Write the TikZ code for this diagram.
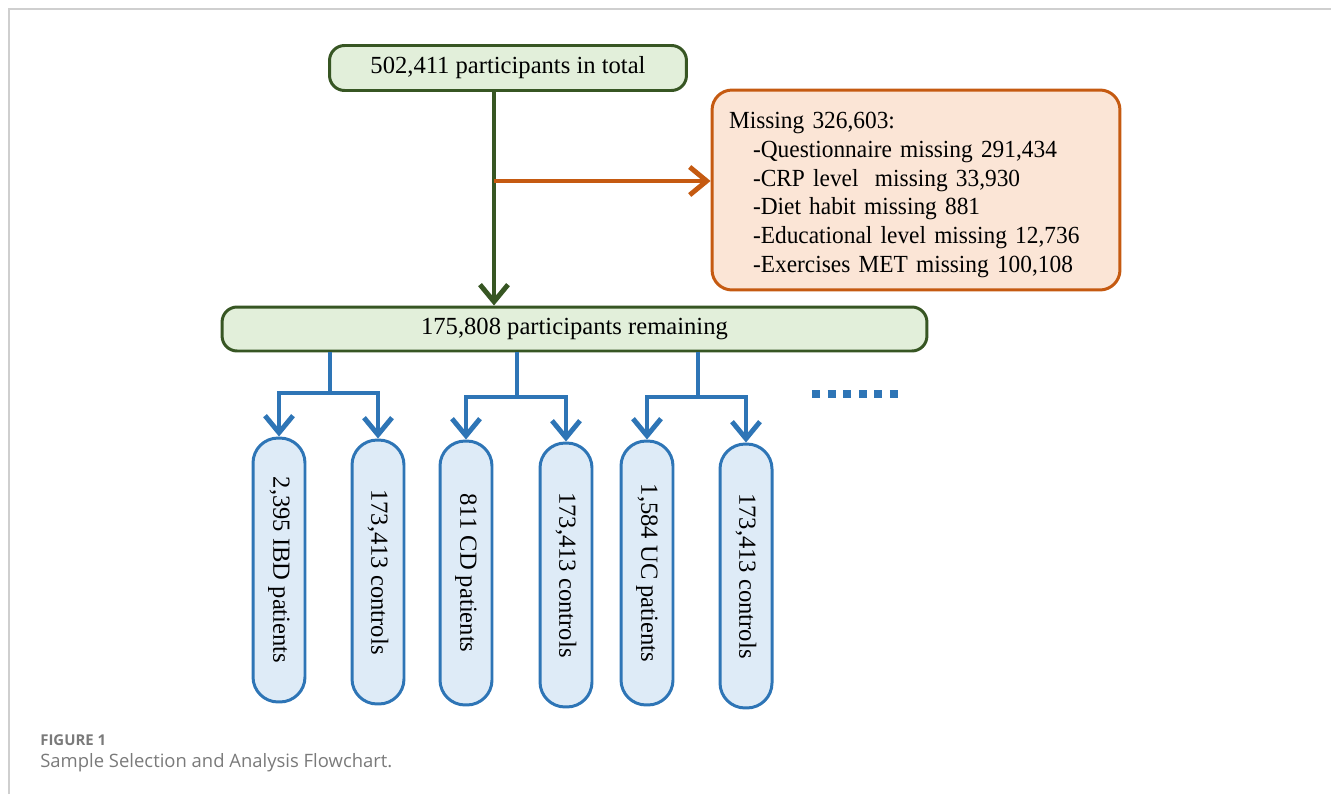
\documentclass[tikz,border=0pt]{standalone}
\usepackage{fontspec}
\setmainfont{Liberation Serif}
\newfontfamily\cajafont[FakeStretch=0.95]{Liberation Serif}
\newfontfamily\capfont{Open Sans}
\usetikzlibrary{arrows.meta}

\definecolor{verdeosc}{HTML}{375623}
\definecolor{verdeclaro}{HTML}{E2EFDA}
\definecolor{naranja}{HTML}{C55A11}
\definecolor{naranjaclaro}{HTML}{FBE5D6}
\definecolor{azul}{HTML}{2E75B6}
\definecolor{azulclaro}{HTML}{DEEBF7}
\definecolor{gris}{HTML}{7A7A7A}
\definecolor{marco}{HTML}{CFCFCF}

\tikzset{
  texto/.style={font=\fontsize{14}{16.5}\selectfont},
  cajaverde/.style={texto, draw=verdeosc, fill=verdeclaro, line width=1.7pt, rounded corners=0.3cm},
  cajanaranja/.style={font=\cajafont\fontsize{14}{16.4}\selectfont, draw=naranja, fill=naranjaclaro, line width=1.7pt, rounded corners=0.4cm},
  cajaazul/.style={texto, draw=azul, fill=azulclaro, line width=1.7pt, rounded corners=0.5cm,
    minimum width=1.04cm, minimum height=5.28cm, inner sep=0pt},
  punta/.style={-{Straight Barb[length=0.34cm,width=0.56cm]}},
  lineaverde/.style={draw=verdeosc, line width=2.8pt, punta},
  lineanaranja/.style={draw=naranja, line width=2.8pt, punta},
  lineaazul/.style={draw=azul, line width=2.8pt},
  flechaazul/.style={lineaazul, punta},
}

\begin{document}
\begin{tikzpicture}[x=0.02cm, y=-0.02cm]
  \useasboundingbox (0,0) rectangle (1331,794);

  % Marco
  \draw[marco, line width=0.8pt] (9,794) -- (9,9) -- (1331,9);

  % Cajas principales
  \node[cajaverde, minimum width=7.14cm, minimum height=0.9cm] (total) at (508,68) {502,411 participants in total};
  \node[cajaverde, minimum width=14.1cm, minimum height=0.88cm] (remain) at (574.5,329) {175,808 participants remaining};

  % Caja de excluidos
  \node[cajanaranja, align=left, text width=7.48cm, inner xsep=0.34cm, minimum height=4cm] (missing) at (916,190) {%
    \rule{0pt}{15pt}Missing 326,603:\\
    \hspace*{0.48cm}-Questionnaire missing 291,434\\
    \hspace*{0.48cm}-CRP level\ \ missing 33,930\\
    \hspace*{0.48cm}-Diet habit missing 881\\
    \hspace*{0.48cm}-Educational level missing 12,736\\
    \hspace*{0.48cm}-Exercises MET missing 100,108};

  % Flechas superiores
  \coordinate (rama) at (494,181);
  \draw[lineaverde] (total.south -| rama) -- (remain.north -| rama);
  \draw[lineanaranja] (rama) -- (rama -| missing.west);

  % Grupos
  \node[cajaazul] (ibd) at (279,570) {\rotatebox{-90}{2,395 IBD patients}};
  \node[cajaazul] (ctlibd) at (378,572) {\rotatebox{-90}{173,413 controls}};
  \node[cajaazul] (cd) at (466,573) {\rotatebox{-90}{811 CD patients}};
  \node[cajaazul] (ctlcd) at (566,575) {\rotatebox{-90}{173,413 controls}};
  \node[cajaazul] (uc) at (647,573) {\rotatebox{-90}{1,584 UC patients}};
  \node[cajaazul] (ctluc) at (746,576) {\rotatebox{-90}{173,413 controls}};

  % Ramas azules
  \coordinate (jibd) at (330,393);
  \coordinate (jcd) at (517,397);
  \coordinate (juc) at (698,397);
  \draw[lineaazul] (remain.south -| jibd) -- (jibd);
  \draw[flechaazul] (jibd) -| (ibd.north);
  \draw[flechaazul] (jibd) -| (ctlibd.north);
  \draw[lineaazul] (remain.south -| jcd) -- (jcd);
  \draw[flechaazul] (jcd) -| (cd.north);
  \draw[flechaazul] (jcd) -| (ctlcd.north);
  \draw[lineaazul] (remain.south -| juc) -- (juc);
  \draw[flechaazul] (juc) -| (uc.north);
  \draw[flechaazul] (juc) -| (ctluc.north);

  % Puntos suspensivos
  \draw[azul, line width=0.16cm, dash pattern=on 0.16cm off 0.152cm] (812,394) -- (898,394);

  % Pie de figura
  \node[anchor=west, inner sep=0pt, text=gris, font=\capfont\fontsize{8.5}{10}\selectfont\bfseries] (figlabel) at (40,740) {FIGURE 1};
  \node[anchor=west, inner sep=0pt, text=gris, font=\capfont\fontsize{10.5}{12}\selectfont] (figcaption) at (40,763) {Sample Selection and Analysis Flowchart.};
\end{tikzpicture}
\end{document}
